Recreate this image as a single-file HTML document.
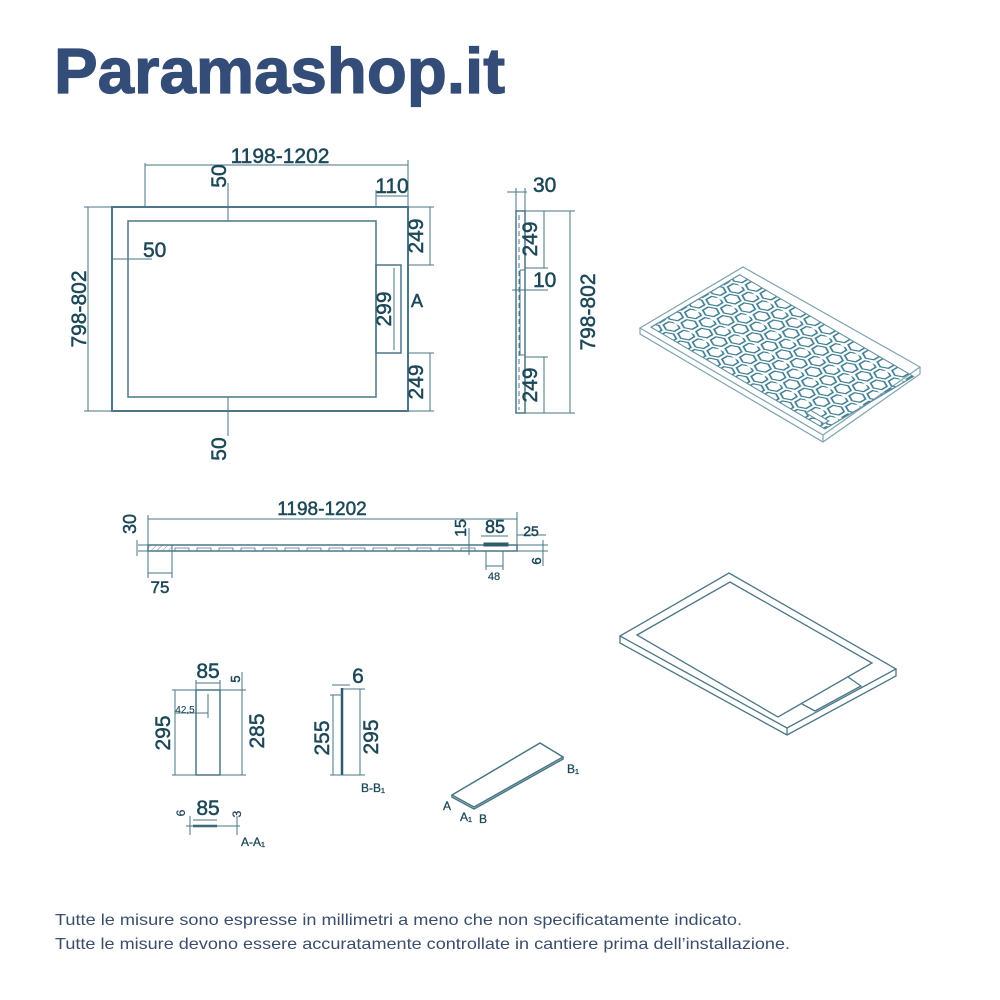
<!DOCTYPE html>
<html><head><meta charset="utf-8"><style>
html,body{margin:0;padding:0;background:#fff;}
svg{display:block;}
text{font-family:"Liberation Sans",sans-serif;}
</style></head><body>
<svg width="1000" height="1000" viewBox="0 0 1000 1000" xmlns="http://www.w3.org/2000/svg">
<defs>
<pattern id="hex" width="24" height="41.6" patternUnits="userSpaceOnUse">
<g fill="none" stroke="#3a7b8f" stroke-width="2.4">
<polygon points="12,1.5 21,6.8 21,17.2 12,22.5 3,17.2 3,6.8"/>
<polygon points="0,22.3 9,27.6 9,38 0,43.3 -9,38 -9,27.6"/>
<polygon points="24,22.3 33,27.6 33,38 24,43.3 15,38 15,27.6"/>
</g>
</pattern>
<pattern id="hatch" width="4" height="4" patternUnits="userSpaceOnUse" patternTransform="rotate(45)">
<line x1="0" y1="0" x2="0" y2="4" stroke="#6f8f9a" stroke-width="1"/>
</pattern>
</defs>

<text x="54" y="93" font-size="64" font-weight="bold" fill="#344d78" stroke="#344d78" stroke-width="1.2" textLength="451" lengthAdjust="spacingAndGlyphs">Paramashop.it</text>

<g stroke="#4a7686" fill="none" stroke-width="1">
<rect x="112" y="207" width="296" height="204" stroke-width="2"/>
<rect x="128" y="221" width="248" height="176" stroke-width="1.5"/>
<rect x="376" y="265" width="25" height="88" stroke-width="1.5"/>
<line x1="394" y1="268" x2="394" y2="350"/>
<line x1="145" y1="165" x2="408" y2="165"/>
<line x1="145" y1="163" x2="145" y2="207"/>
<line x1="408" y1="160" x2="408" y2="207"/>
<line x1="228" y1="183" x2="228" y2="221"/>
<line x1="228" y1="397" x2="228" y2="436"/>
<line x1="376" y1="196" x2="408" y2="196"/>
<line x1="376" y1="190" x2="376" y2="207"/>
<line x1="88" y1="207" x2="88" y2="411"/>
<line x1="84" y1="207" x2="112" y2="207"/>
<line x1="84" y1="411" x2="112" y2="411"/>
<line x1="112" y1="259" x2="152" y2="259"/>
<line x1="128" y1="250" x2="128" y2="262"/>
<line x1="430" y1="207" x2="430" y2="265"/>
<line x1="430" y1="353" x2="430" y2="411"/>
<line x1="408" y1="207" x2="434" y2="207"/>
<line x1="408" y1="265" x2="434" y2="265"/>
<line x1="408" y1="353" x2="434" y2="353"/>
<line x1="408" y1="411" x2="434" y2="411"/>

<rect x="516" y="211" width="9" height="202" stroke-width="1.5"/>
<line x1="519" y1="215" x2="519" y2="410" stroke-dasharray="5,3"/>
<rect x="520" y="270" width="5" height="85"/>
<line x1="507" y1="192" x2="527" y2="192"/>
<line x1="516" y1="188" x2="516" y2="211"/>
<line x1="525" y1="188" x2="525" y2="211"/>
<line x1="544" y1="211" x2="544" y2="268"/>
<line x1="544" y1="357" x2="544" y2="413"/>
<line x1="525" y1="211" x2="575" y2="211"/>
<line x1="525" y1="268" x2="548" y2="268"/>
<line x1="512" y1="290" x2="548" y2="290"/>
<line x1="525" y1="357" x2="548" y2="357"/>
<line x1="525" y1="413" x2="575" y2="413"/>
<line x1="570" y1="211" x2="570" y2="413"/>

<rect x="148" y="545" width="369" height="6" stroke-width="1.5"/>
<rect x="148" y="545" width="24" height="6" fill="url(#hatch)"/>
<g stroke-width="0.8">
<path d="M175 548h14v3h-14zM197 548h14v3h-14zM219 548h14v3h-14zM241 548h14v3h-14zM263 548h14v3h-14zM285 548h14v3h-14zM307 548h14v3h-14zM329 548h14v3h-14zM351 548h14v3h-14zM373 548h14v3h-14zM395 548h14v3h-14zM417 548h14v3h-14zM439 548h14v3h-14zM461 548h14v3h-14z"/>
</g>
<rect x="484" y="543" width="24" height="3" fill="#2f5a6a" stroke="#2f5a6a"/>
<line x1="148" y1="519" x2="517" y2="519"/>
<line x1="148" y1="515" x2="148" y2="545"/>
<line x1="517" y1="512" x2="517" y2="545"/>
<line x1="138" y1="545" x2="148" y2="545"/>
<line x1="138" y1="551" x2="148" y2="551"/>
<line x1="137" y1="540" x2="137" y2="556"/>
<line x1="148" y1="551" x2="148" y2="578"/>
<line x1="172" y1="551" x2="172" y2="578"/>
<line x1="148" y1="573" x2="172" y2="573"/>
<line x1="469" y1="528" x2="469" y2="555"/>
<line x1="481" y1="536" x2="508" y2="536"/>
<line x1="486" y1="551" x2="486" y2="570"/>
<line x1="503" y1="551" x2="503" y2="570"/>
<line x1="486" y1="566" x2="503" y2="566"/>
<line x1="517" y1="535" x2="546" y2="535"/>
<line x1="517" y1="545" x2="548" y2="545"/>
<line x1="517" y1="551" x2="548" y2="551"/>
<line x1="543" y1="540" x2="543" y2="566"/>

<rect x="196" y="690" width="24" height="85" stroke-width="1.5"/>
<line x1="175" y1="690" x2="175" y2="775"/>
<line x1="172" y1="690" x2="246" y2="690"/>
<line x1="172" y1="775" x2="246" y2="775"/>
<line x1="242" y1="692" x2="242" y2="775"/>
<line x1="196" y1="683" x2="220" y2="683"/>
<line x1="196" y1="680" x2="196" y2="690"/>
<line x1="220" y1="680" x2="220" y2="690"/>
<line x1="242" y1="672" x2="242" y2="695"/>
<line x1="208" y1="694" x2="208" y2="718"/>
<line x1="175" y1="713" x2="208" y2="713"/>
<line x1="342" y1="688" x2="342" y2="775" stroke-width="2.5" stroke="#2f5a6a"/>
<line x1="333" y1="695" x2="333" y2="775"/>
<line x1="330" y1="695" x2="342" y2="695"/>
<line x1="330" y1="775" x2="365" y2="775"/>
<line x1="343" y1="689" x2="365" y2="689"/>
<line x1="360" y1="689" x2="360" y2="775"/>
<line x1="332" y1="685" x2="350" y2="685"/>
<line x1="193" y1="826" x2="217" y2="826" stroke-width="2.5" stroke="#2f5a6a"/>
<line x1="193" y1="820" x2="217" y2="820"/>
<line x1="190" y1="816" x2="190" y2="835"/>
<line x1="237" y1="816" x2="237" y2="835"/>
<line x1="186" y1="826" x2="240" y2="826"/>
<polygon points="452,795 540,743 563,757 474,807" stroke-width="1.5"/>
<polyline points="452,795 452,797 474,809 563,759 563,757" stroke-width="1.5"/>
</g>

<g stroke="#7fa4b0" fill="none" stroke-width="1.2">
<polygon points="640,328 743,267 920,367 823,435" fill="#fff"/>
<polyline points="640,328 640,334 823,442 920,374 920,367"/>
<line x1="823" y1="435" x2="823" y2="442"/>
</g>
<g transform="matrix(0.61,0.357,0.515,-0.305,640,328)">
<rect x="8" y="12" width="285" height="172" fill="url(#hex)"/>
<rect x="8" y="12" width="285" height="172" fill="none" stroke="#5f8f9f" stroke-width="2"/>
<rect x="255" y="20" width="30" height="9" fill="#fff" stroke="#5f8f9f" stroke-width="2"/>
</g>

<g stroke="#4a7686" fill="none" stroke-width="1.3">
<polygon points="620,636 729,573 896,669 787,728"/>
<polyline points="620,636 620,643 787,735 896,676 896,669"/>
<line x1="787" y1="728" x2="787" y2="735"/>
<polygon points="637,635 730,582 872,663 778,717"/>
<polyline points="848,677 861,686 815,711 802,704"/>
</g>

<g fill="#1d4858" stroke="#1d4858" stroke-width="0.5" font-size="21">
<text x="280" y="163" text-anchor="middle">1198-1202</text>
<text x="392" y="193" text-anchor="middle">110</text>
<text x="228" y="186" text-anchor="middle" transform="rotate(-90 228 186)" dy="-2" dx="10">50</text>
<text x="228" y="436" text-anchor="middle" transform="rotate(-90 228 436)" dy="-2" dx="-13">50</text>
<text x="143" y="257">50</text>
<text x="93" y="309" text-anchor="middle" transform="rotate(-90 93 309)" dy="-7">798-802</text>
<text x="427" y="236" text-anchor="middle" transform="rotate(-90 427 236)" dy="-4">249</text>
<text x="427" y="382" text-anchor="middle" transform="rotate(-90 427 382)" dy="-4">249</text>
<text x="394" y="309" text-anchor="middle" transform="rotate(-90 394 309)" dy="-3">299</text>
<text x="411" y="307" font-size="18">A</text>
<text x="533" y="192">30</text>
<text x="541" y="239" text-anchor="middle" transform="rotate(-90 541 239)" dy="-4">249</text>
<text x="533" y="287">10</text>
<text x="541" y="385" text-anchor="middle" transform="rotate(-90 541 385)" dy="-4">249</text>
<text x="595" y="312" text-anchor="middle" transform="rotate(-90 595 312)">798-802</text>
<text x="322" y="515" text-anchor="middle" font-size="19">1198-1202</text>
<text x="136" y="524" text-anchor="middle" transform="rotate(-90 136 524)" font-size="18">30</text>
<text x="160" y="593" text-anchor="middle" font-size="17">75</text>
<text x="466" y="528" text-anchor="middle" transform="rotate(-90 466 528)" font-size="16">15</text>
<text x="495" y="533" text-anchor="middle" font-size="18">85</text>
<text x="531" y="536" text-anchor="middle" font-size="14">25</text>
<text x="541" y="561" text-anchor="middle" transform="rotate(-90 541 561)" font-size="13">6</text>
<text x="494" y="580" text-anchor="middle" font-size="11" stroke-width="0.2">48</text>
<text x="208" y="678" text-anchor="middle">85</text>
<text x="240" y="679" text-anchor="middle" transform="rotate(-90 240 679)" font-size="13">5</text>
<text x="185" y="713" text-anchor="middle" font-size="10" stroke-width="0.1">42,5</text>
<text x="172" y="733" text-anchor="middle" transform="rotate(-90 172 733)" dy="-2">295</text>
<text x="266" y="731" text-anchor="middle" transform="rotate(-90 266 731)" dy="-2">285</text>
<text x="358" y="683" text-anchor="middle">6</text>
<text x="331" y="738" text-anchor="middle" transform="rotate(-90 331 738)" dy="-2">255</text>
<text x="380" y="737" text-anchor="middle" transform="rotate(-90 380 737)" dy="-2">295</text>
<text x="373" y="792" text-anchor="middle" font-size="12" stroke-width="0.3">B-B₁</text>
<text x="208" y="815" text-anchor="middle">85</text>
<text x="185" y="813" text-anchor="middle" transform="rotate(-90 185 813)" font-size="12" stroke-width="0.3">6</text>
<text x="241" y="814" text-anchor="middle" transform="rotate(-90 241 814)" font-size="12" stroke-width="0.3">3</text>
<text x="253" y="846" text-anchor="middle" font-size="12" stroke-width="0.3">A-A₁</text>
<text x="447" y="810" text-anchor="middle" font-size="12" stroke-width="0.3">A</text>
<text x="466" y="821" text-anchor="middle" font-size="12" stroke-width="0.3">A₁</text>
<text x="483" y="823" text-anchor="middle" font-size="12" stroke-width="0.3">B</text>
<text x="573" y="773" text-anchor="middle" font-size="12" stroke-width="0.3">B₁</text>
</g>

<g fill="#3a4e6a" font-size="16">
<text x="55" y="925" textLength="687" lengthAdjust="spacingAndGlyphs">Tutte le misure sono espresse in millimetri a meno che non specificatamente indicato.</text>
<text x="55" y="949" textLength="735" lengthAdjust="spacingAndGlyphs">Tutte le misure devono essere accuratamente controllate in cantiere prima dell’installazione.</text>
</g>
</svg>
</body></html>
